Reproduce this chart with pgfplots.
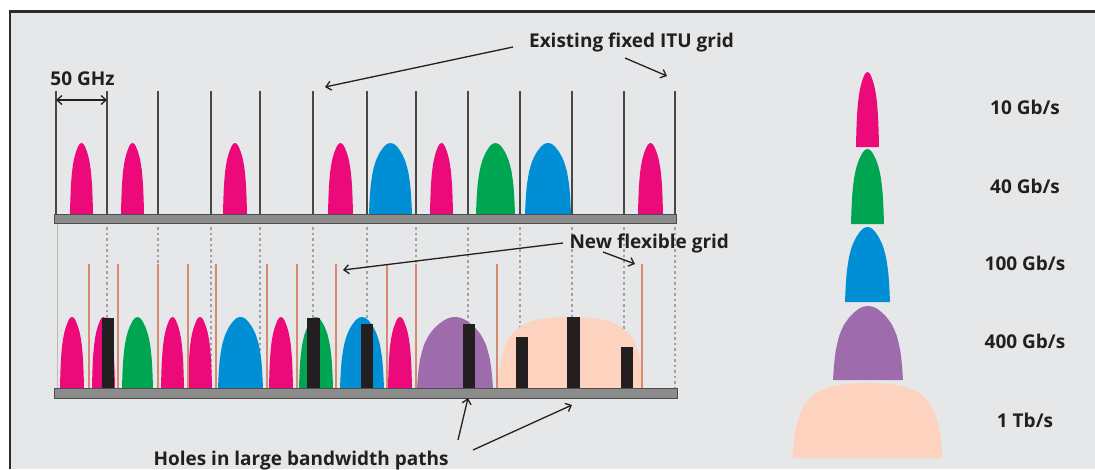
\documentclass[border=0pt]{standalone}
\usepackage{fontspec}
\setmainfont{Open Sans}
\usepackage{pgfplots}
\pgfplotsset{compat=1.18}
\usepackage{pgfplotstable}
\usetikzlibrary{arrows.meta}

\definecolor{bgc}{HTML}{E6E7E8}
\definecolor{framec}{HTML}{2B2B2B}
\definecolor{pinkc}{HTML}{EC0A7A}
\definecolor{greenc}{HTML}{00A551}
\definecolor{bluec}{HTML}{008FD5}
\definecolor{purplec}{HTML}{9E6CAD}
\definecolor{peachc}{HTML}{FDD3C0}
\definecolor{flexc}{HTML}{D88A6F}
\definecolor{holec}{HTML}{231F20}
\definecolor{railc}{HTML}{8C8C8C}
\definecolor{raild}{HTML}{4D4D4D}
\definecolor{gridc}{HTML}{474747}
\definecolor{dotc}{HTML}{A0A0A0}
\definecolor{txtc}{HTML}{231F20}

\newcommand\labfont{\fontsize{19}{22}\selectfont\bfseries}

% normalised channel profiles (u across, v up)
\pgfplotstableread{
u v
-1 0
-0.97 0.2
-0.92 0.4
-0.82 0.6
-0.68 0.75
-0.5 0.865
-0.3 0.95
-0.15 0.988
0 1
0.15 0.988
0.3 0.95
0.5 0.865
0.68 0.75
0.82 0.6
0.92 0.4
0.97 0.2
1 0
}\bullettab

\pgfplotstableread{
u v
-1 0
-0.995 0.15
-0.97 0.35
-0.92 0.55
-0.84 0.72
-0.7 0.86
-0.5 0.95
-0.25 0.99
0 1
0.25 0.99
0.5 0.95
0.7 0.86
0.84 0.72
0.92 0.55
0.97 0.35
0.995 0.15
1 0
}\dometab

% profile, colour, centre, half width, base, height
\newcommand{\hump}[6]{%
  \addplot[fill=#2, draw=none, smooth, tension=0.4] table[x expr={#3+#4*\thisrow{u}}, y expr={#5-#6*\thisrow{v}}] {#1};}
% left, right, top of a hole
\newcommand{\hole}[3]{%
  \addplot[fill=holec, draw=none] coordinates {(#1,388) (#1,#3) (#2,#3) (#2,388)};}

\begin{document}
\begin{tikzpicture}
\begin{axis}[
    width=1095pt, height=469pt, scale only axis,
    xmin=0, xmax=1095, ymin=0, ymax=469,
    y dir=reverse, hide axis, clip=false,
    unbounded coords=jump,
]
% background and frame
\addplot[fill=white, draw=none] coordinates {(0,0) (1095,0) (1095,469) (0,469)};
\addplot[fill=bgc, draw=none] coordinates {(10,11.5) (1095,11.5) (1095,469) (10,469)};
\addplot[framec, line width=2.5pt] coordinates {(10,469) (10,11.5) (1095,11.5)};

% fixed ITU grid (top)
\addplot[gridc, line width=2pt] coordinates {
(56,91) (56,214) (56,nan)
(107,91) (107,214) (107,nan)
(158,91) (158,214) (158,nan)
(211,91) (211,214) (211,nan)
(260,91) (260,214) (260,nan)
(313,91) (313,214) (313,nan)
(367,91) (367,214) (367,nan)
(416,91) (416,214) (416,nan)
(468,91) (468,214) (468,nan)
(520,91) (520,214) (520,nan)
(572,91) (572,214) (572,nan)
(624,91) (624,214) (624,nan)
(675,91) (675,214) (675,nan)
};

% ITU grid carried down (dotted)
\addplot[dotc, line width=1.2pt, dash pattern=on 2.5pt off 3pt] coordinates {
(107,227) (107,388) (107,nan)
(158,227) (158,388) (158,nan)
(211,227) (211,388) (211,nan)
(260,227) (260,388) (260,nan)
(313,227) (313,388) (313,nan)
(367,227) (367,388) (367,nan)
(416,227) (416,388) (416,nan)
(468,227) (468,388) (468,nan)
(520,227) (520,388) (520,nan)
(572,227) (572,388) (572,nan)
(624,227) (624,388) (624,nan)
(675,227) (675,388) (675,nan)
};
\addplot[dotc!70, line width=1pt] coordinates {(57,224) (57,388)};

% top panel channels
\hump{\bullettab}{pinkc}{81.5}{11.5}{214}{71}
\hump{\bullettab}{pinkc}{132.5}{11.5}{214}{71}
\hump{\bullettab}{pinkc}{235}{12}{214}{71}
\hump{\bullettab}{pinkc}{340.5}{12.5}{214}{71}
\hump{\bullettab}{bluec}{390.5}{21.5}{214}{71}
\hump{\bullettab}{pinkc}{441.5}{11.5}{214}{71}
\hump{\bullettab}{greenc}{495.5}{19.5}{214}{71}
\hump{\bullettab}{bluec}{548}{23}{214}{71}
\hump{\bullettab}{pinkc}{650.5}{12.5}{214}{71}

% bottom panel channels
\hump{\bullettab}{pinkc}{72}{12}{388}{71}
\hump{\bullettab}{pinkc}{103.5}{11.5}{388}{71}
\hump{\bullettab}{greenc}{137.5}{15.5}{388}{71}
\hump{\bullettab}{pinkc}{172.5}{11.5}{388}{71}
\hump{\bullettab}{pinkc}{200}{12}{388}{71}
\hump{\bullettab}{bluec}{240.5}{22.5}{388}{71}
\hump{\bullettab}{pinkc}{281}{12}{388}{71}
\hump{\bullettab}{greenc}{316}{17}{388}{71}
\hump{\bullettab}{bluec}{362}{22}{388}{71}
\hump{\bullettab}{pinkc}{400}{12}{388}{71}
\hump{\bullettab}{purplec}{455}{38}{388}{71}
\hump{\dometab}{peachc}{570.5}{72.5}{388}{71}

% new flexible grid
\addplot[flexc, line width=2.2pt] coordinates {
(89,264) (89,388) (89,nan)
(118,264) (118,388) (118,nan)
(158,264) (158,388) (158,nan)
(188,264) (188,388) (188,nan)
(216,264) (216,388) (216,nan)
(267,264) (267,388) (267,nan)
(297,264) (297,388) (297,nan)
(336,264) (336,388) (336,nan)
(387,264) (387,388) (387,nan)
(416,264) (416,388) (416,nan)
(497,264) (497,388) (497,nan)
(642,264) (642,388) (642,nan)
};

% holes
\hole{102}{114}{318}
\hole{307}{320}{318}
\hole{361}{373}{324}
\hole{463}{475}{324}
\hole{516}{528}{337}
\hole{567}{580}{317}
\hole{621}{633}{347}

% rails
\addplot[fill=railc, draw=raild, line width=1pt] coordinates {(54,214) (676,214) (676,223) (54,223) (54,214)};
\addplot[fill=railc, draw=raild, line width=1pt] coordinates {(54,388) (677,388) (677,398) (54,398) (54,388)};

% legend shapes
\hump{\bullettab}{pinkc}{867.5}{11.5}{147}{75}
\hump{\bullettab}{greenc}{867.5}{16.5}{224}{75}
\hump{\bullettab}{bluec}{867.5}{22.5}{302}{75}
\hump{\bullettab}{purplec}{868}{35}{380}{74}
\hump{\dometab}{peachc}{867.5}{74.5}{458}{75}

% labels
\node[font=\labfont, text=txtc, anchor=base] at (1025,114) {10 Gb/s};
\node[font=\labfont, text=txtc, anchor=base] at (1025,193) {40 Gb/s};
\node[font=\labfont, text=txtc, anchor=base] at (1025,270) {100 Gb/s};
\node[font=\labfont, text=txtc, anchor=base] at (1025,348) {400 Gb/s};
\node[font=\labfont, text=txtc, anchor=base] at (1025,427) {1 Tb/s};

\node[font=\labfont, text=txtc, anchor=base] at (82.5,85) {50 GHz};
\node[font=\labfont, text=txtc, anchor=base] at (631.5,47) {Existing fixed ITU grid};
\node[font=\labfont, text=txtc, anchor=base west] at (566,248) {New flexible grid};
\node[font=\labfont, text=txtc, anchor=base west] at (150,465) {Holes in large bandwidth paths};

% arrows
\draw[txtc, line width=1.3pt, {Straight Barb[length=5pt,width=9pt]}-{Straight Barb[length=5pt,width=9pt]}] (56,100) -- (107,100);
\draw[txtc, line width=1.3pt, -{Straight Barb[length=5pt,width=9pt]}] (513,47) -- (325,87);
\draw[txtc, line width=1.3pt, -{Straight Barb[length=5pt,width=9pt]}] (625,58) -- (667,76);
\draw[txtc, line width=1.3pt, -{Straight Barb[length=5pt,width=9pt]}] (563,243) -- (343,270);
\draw[txtc, line width=1.3pt, -{Straight Barb[length=5pt,width=9pt]}] (603,252) -- (635,264);
\draw[txtc, line width=1.3pt, -{Straight Barb[length=5pt,width=9pt]}] (458,440) -- (468,398);
\draw[txtc, line width=1.3pt, -{Straight Barb[length=5pt,width=9pt]}] (473,450) -- (572,405);
\end{axis}
\pgfresetboundingbox
\path[use as bounding box] (current axis.south west) rectangle (current axis.north east);
\end{tikzpicture}
\end{document}
